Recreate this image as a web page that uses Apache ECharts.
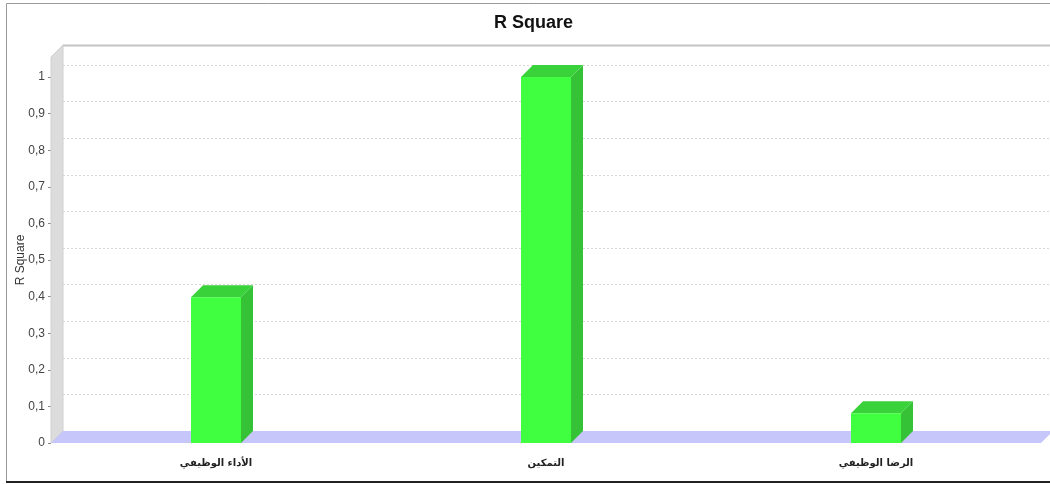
<!DOCTYPE html>
<html>
<head>
<meta charset="utf-8">
<script src="https://cdn.jsdelivr.net/npm/echarts@6/dist/echarts.min.js"></script>
<style>
  html, body { margin: 0; padding: 0; background: #fff; }
  #chart { width: 1050px; height: 484px; }
</style>
</head>
<body>
<div id="chart"></div>
<script>
// Categories and R² values
const categories = ['الأداء الوظيفي', 'التمكين', 'الرضا الوظيفي'];
const rSquare = [0.398, 1.0, 0.081];
const yTicks = [0, 0.1, 0.2, 0.3, 0.4, 0.5, 0.6, 0.7, 0.8, 0.9, 1];

// 3D depth of walls and bars, in pixels
const DEPTH = 12;
const BAR_FRACTION = 50 / 330;

const FRONT = '#40ff40';
const TOP = '#3ad23a';
const SIDE = '#36c236';

const chart = echarts.init(document.getElementById('chart'), null, { renderer: 'canvas' });

function renderBar(params, api) {
  const idx = api.value(0);
  const v = api.value(1);
  const base = api.coord([idx, 0]);
  const top = api.coord([idx, v]);
  const bw = api.size([1, 0])[0] * BAR_FRACTION;
  const x0 = base[0] - bw / 2;
  const x1 = x0 + bw;
  const yb = base[1];
  const yt = top[1];
  return {
    type: 'group',
    children: [
      { type: 'polygon', shape: { points: [[x1, yt], [x1 + DEPTH, yt - DEPTH], [x1 + DEPTH, yb - DEPTH], [x1, yb]] },
        style: { fill: SIDE } },
      { type: 'polygon', shape: { points: [[x0, yt], [x0 + DEPTH, yt - DEPTH], [x1 + DEPTH, yt - DEPTH], [x1, yt]] },
        style: { fill: TOP } },
      { type: 'rect', shape: { x: x0, y: yt, width: bw, height: yb - yt },
        style: { fill: FRONT } }
    ]
  };
}

// Left wall, floor and back-wall top border of the 3D plot
function renderWalls(params, api) {
  const cs = params.coordSys;
  const left = cs.x, right = cs.x + cs.width;
  const bottom = cs.y + cs.height;
  const topY = cs.y - 20;
  return {
    type: 'group',
    children: [
      { type: 'polygon', shape: { points: [[left, bottom], [left + DEPTH, bottom - DEPTH], [left + DEPTH, topY - DEPTH], [left, topY]] },
        style: { fill: '#dcdcdc', stroke: '#d0d0d0', lineWidth: 1 } },
      { type: 'line', shape: { x1: left + DEPTH, y1: topY - DEPTH + 0.5, x2: right + DEPTH + 20, y2: topY - DEPTH + 0.5 },
        style: { stroke: '#c4c4c4', lineWidth: 2 } },
      { type: 'polygon', shape: { points: [[left, bottom], [left + DEPTH, bottom - DEPTH], [right + DEPTH, bottom - DEPTH], [right, bottom]] },
        style: { fill: '#c6c6fa' } }
    ]
  };
}

const option = {
  backgroundColor: '#ffffff',
  animation: false,
  title: {
    text: 'R Square',
    left: 489,
    top: 9,
    textStyle: { fontFamily: 'Liberation Sans', fontSize: 18, fontWeight: 'bold', color: '#111' }
  },
  graphic: [
    { type: 'rect', shape: { x: 6.5, y: 3.5, width: 1060, height: 478 },
      style: { fill: 'none', stroke: '#9a9a9a', lineWidth: 1 }, z: 100 },
    { type: 'line', shape: { x1: 6, y1: 482, x2: 1050, y2: 482 },
      style: { stroke: '#222', lineWidth: 2 }, z: 100 }
  ],
  grid: [
    { left: 51, right: 9, top: 77, bottom: 41 },
    { left: 51 + DEPTH, right: 0, top: 77 - DEPTH, bottom: 41 + DEPTH }
  ],
  xAxis: [
    {
      type: 'category', gridIndex: 0, data: categories,
      axisLine: { show: false }, axisTick: { show: false },
      axisLabel: { margin: 15, fontSize: 10, color: '#222', fontFamily: 'DejaVu Sans', fontWeight: 'bold' }
    },
    { type: 'category', gridIndex: 1, data: categories, show: false }
  ],
  yAxis: [
    {
      type: 'value', gridIndex: 0, min: 0, max: 1, interval: 0.1,
      name: 'R Square', nameLocation: 'middle', nameGap: 24, nameRotate: 90,
      nameMoveOverlap: false,
      nameTextStyle: { fontFamily: 'Liberation Sans', fontSize: 12, color: '#333' },
      axisLine: { show: false },
      axisTick: { show: true, length: 3, lineStyle: { color: '#888' } },
      axisLabel: {
        margin: 6, fontSize: 12, color: '#444', fontFamily: 'Liberation Sans Narrow, Liberation Sans',
        formatter: v => String(+v.toFixed(1)).replace('.', ',')
      },
      splitLine: { show: false }
    },
    {
      type: 'value', gridIndex: 1, min: 0, max: 1, interval: 0.1,
      axisLine: { show: false }, axisTick: { show: false }, axisLabel: { show: false },
      splitLine: { show: true, lineStyle: { color: '#d8d8d8', type: [2, 2], width: 1 } }
    }
  ],
  series: [
    {
      type: 'custom', name: 'walls', xAxisIndex: 0, yAxisIndex: 0,
      renderItem: renderWalls, data: [[0, 0]], clip: false, z: 1, silent: true
    },
    {
      type: 'custom', name: 'R Square', xAxisIndex: 0, yAxisIndex: 0,
      renderItem: renderBar,
      data: rSquare.map((v, i) => [i, v]),
      encode: { x: 0, y: 1 }, clip: false, z: 2
    }
  ]
};

chart.setOption(option);
</script>
</body>
</html>
